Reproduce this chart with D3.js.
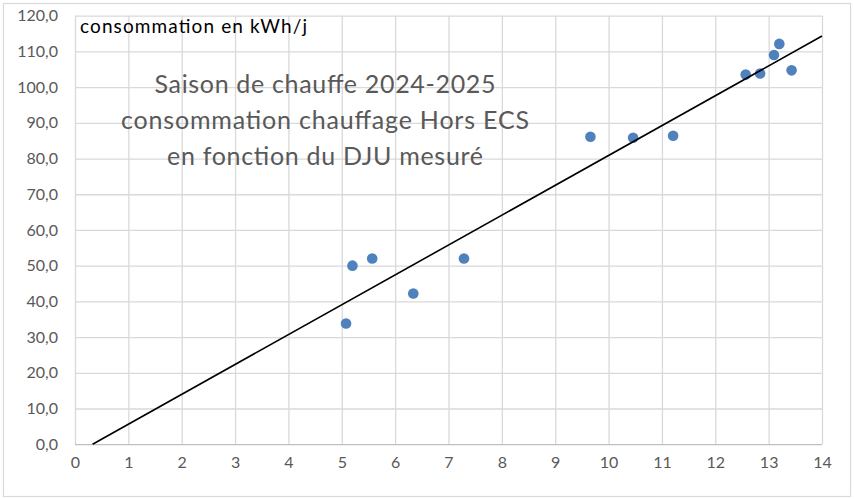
<!DOCTYPE html>
<html><head><meta charset="utf-8">
<script src="https://cdn.jsdelivr.net/npm/d3@7"></script>
<style>body{margin:0;background:#fff}svg{display:block}</style>
</head><body><div id="chart"></div>
<script>
const djuValues = [5.08, 5.2, 5.57, 6.34, 7.29, 9.66, 10.46, 11.21, 12.57, 12.84, 13.1, 13.2, 13.43];
const consoValues = [33.8, 50.0, 52.0, 42.2, 52.0, 86.1, 85.8, 86.4, 103.5, 103.8, 109.0, 112.1, 104.7];
const trendX = [0.33, 14];
const trendY = [0, 114.3];
const xTicks = [0,1,2,3,4,5,6,7,8,9,10,11,12,13,14];
const yTicks = [0,10,20,30,40,50,60,70,80,90,100,110,120];
const titleLines = ["Saison de chauffe 2024-2025", "consommation chauffage Hors ECS", "en fonction du DJU mesuré"];
const yLabel = "consommation en kWh/j";

const W = 854, H = 499;
const m = {left: 75, right: 32, top: 15.7, bottom: 55};
const font = "Lato, 'Open Sans', sans-serif";
const svg = d3.select("#chart").append("svg").attr("width", W).attr("height", H);
svg.append("rect").attr("x", 3.5).attr("y", 3.5).attr("width", 847).attr("height", 493)
  .attr("fill", "#fff").attr("stroke", "#D9D9D9").attr("stroke-width", 1.2);

const x = d3.scaleLinear().domain([0, 14]).range([m.left, W - m.right]);
const y = d3.scaleLinear().domain([0, 120]).range([444.2, m.top]);

const fmt = d => d.toFixed(1).replace(".", ",");

// grid
const gx = svg.append("g").attr("transform", `translate(0,${y(0)})`)
  .call(d3.axisBottom(x).tickValues(xTicks).tickSize(-(y(0) - y(120))).tickFormat(d => d).tickPadding(12));
gx.select(".domain").remove();
gx.selectAll(".tick line").attr("stroke", "#D9D9D9").attr("stroke-width", 1.3);
gx.selectAll(".tick text").attr("fill", "#595959").style("font-family", font).style("font-size", "16px");

const gy = svg.append("g").attr("transform", `translate(${x(0)},0)`)
  .call(d3.axisLeft(y).tickValues(yTicks).tickSize(-(x(14) - x(0))).tickFormat(fmt).tickPadding(17));
gy.select(".domain").remove();
gy.selectAll(".tick line").attr("stroke", d => d === 0 ? "#BFBFBF" : "#D9D9D9").attr("stroke-width", 1.3);
gy.selectAll(".tick text").attr("fill", "#595959").style("font-family", font).style("font-size", "16px");

// y label
svg.append("text").attr("x", 80).attr("y", 33).text(yLabel)
  .attr("fill", "#000").style("font-family", font).style("font-size", "19px")
  .attr("textLength", 227);

// title
const tw = [341, 408, 316];
titleLines.forEach((t, i) => {
  svg.append("text").attr("x", 325).attr("y", 93 + i * 36).attr("text-anchor", "middle")
    .text(t).attr("fill", "#595959").style("font-family", font).style("font-size", "25px")
    .attr("textLength", tw[i]);
});

// points
svg.append("g").selectAll("circle").data(djuValues.map((d, i) => [d, consoValues[i]]))
  .join("circle").attr("cx", d => x(d[0])).attr("cy", d => y(d[1])).attr("r", 5.3)
  .attr("fill", "#4F81BD");

// trend line
svg.append("path").datum(trendX.map((d, i) => [d, trendY[i]]))
  .attr("d", d3.line().x(d => x(d[0])).y(d => y(d[1])))
  .attr("stroke", "#000").attr("stroke-width", 1.6).attr("fill", "none");
</script></body></html>
